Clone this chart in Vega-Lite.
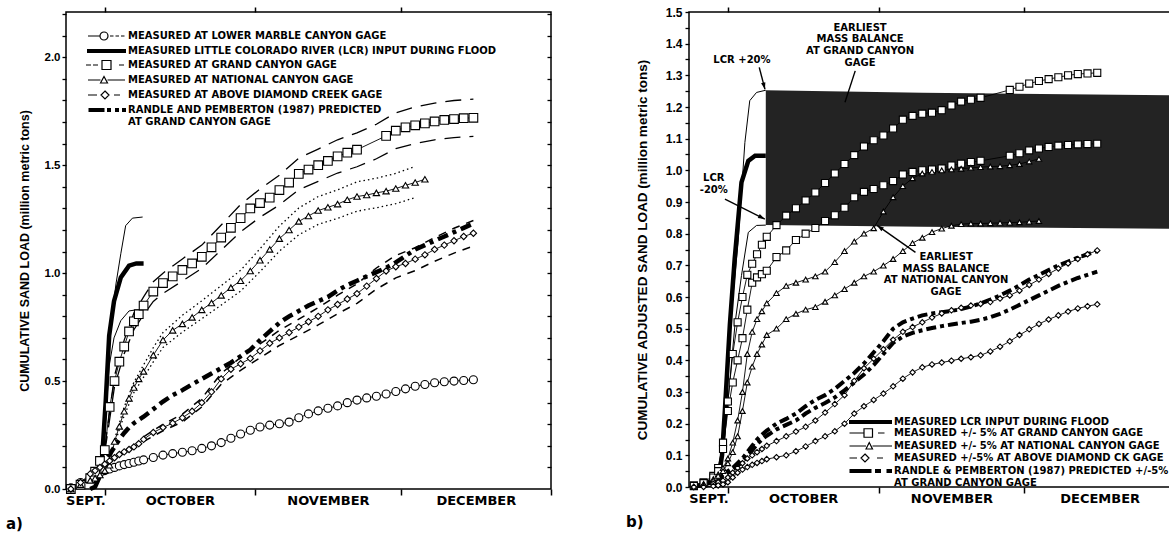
{
"$schema": "https://vega.github.io/schema/vega-lite/v6.json",
"background": "white",
"padding": {"left": 5, "top": 5, "right": 0, "bottom": 0},
"config": {"view": {"stroke": "black", "strokeWidth": 1.5}, "axis": {"grid": false}},
"bounds": "flush",
"spacing": 138,
"resolve": {"scale": {"shape": "independent"}, "legend": {"shape": "independent"}},
"datasets": {
"a_main": [
{"d":-7,"lm":0.005,"gc":0.0,"nc":0.0,"dc":0.0,"rp":0.0},
{"d":-5,"lm":0.03,"gc":0.02,"nc":0.02,"dc":0.03,"rp":0.02},
{"d":-3,"lm":0.055,"gc":0.05,"nc":0.04,"dc":0.07,"rp":0.05},
{"d":-2,"lm":0.065,"gc":0.08,"nc":0.05,"dc":0.085,"rp":0.07},
{"d":-1,"lm":0.075,"gc":0.13,"nc":0.065,"dc":0.1,"rp":0.1},
{"d":0,"lm":0.085,"gc":0.18,"nc":0.085,"dc":0.115,"rp":0.13},
{"d":1,"lm":0.093,"gc":0.38,"nc":0.11,"dc":0.13,"rp":0.16},
{"d":2,"lm":0.1,"gc":0.5,"nc":0.22,"dc":0.145,"rp":0.195},
{"d":3,"lm":0.107,"gc":0.59,"nc":0.29,"dc":0.16,"rp":0.23},
{"d":4,"lm":0.113,"gc":0.66,"nc":0.36,"dc":0.172,"rp":0.26},
{"d":5,"lm":0.118,"gc":0.73,"nc":0.42,"dc":0.183,"rp":0.285},
{"d":6,"lm":0.124,"gc":0.777,"nc":0.47,"dc":0.195,"rp":0.305},
{"d":7,"lm":0.13,"gc":0.81,"nc":0.51,"dc":0.21,"rp":0.32},
{"d":8,"lm":0.135,"gc":0.85,"nc":0.545,"dc":0.23,"rp":0.335},
{"d":10,"lm":0.146,"gc":0.915,"nc":0.62,"dc":0.262,"rp":0.37},
{"d":12,"lm":0.157,"gc":0.954,"nc":0.69,"dc":0.285,"rp":0.405},
{"d":14,"lm":0.164,"gc":0.985,"nc":0.735,"dc":0.305,"rp":0.435},
{"d":16,"lm":0.17,"gc":1.015,"nc":0.765,"dc":0.33,"rp":0.458},
{"d":18,"lm":0.177,"gc":1.045,"nc":0.795,"dc":0.36,"rp":0.485},
{"d":20,"lm":0.188,"gc":1.076,"nc":0.83,"dc":0.4,"rp":0.51},
{"d":22,"lm":0.2,"gc":1.12,"nc":0.862,"dc":0.45,"rp":0.535},
{"d":24,"lm":0.215,"gc":1.165,"nc":0.897,"dc":0.51,"rp":0.56},
{"d":26,"lm":0.235,"gc":1.21,"nc":0.933,"dc":0.555,"rp":0.585},
{"d":28,"lm":0.255,"gc":1.255,"nc":0.965,"dc":0.58,"rp":0.615},
{"d":30,"lm":0.272,"gc":1.3,"nc":1.01,"dc":0.605,"rp":0.645},
{"d":32,"lm":0.287,"gc":1.325,"nc":1.06,"dc":0.64,"rp":0.69},
{"d":34,"lm":0.296,"gc":1.35,"nc":1.11,"dc":0.675,"rp":0.73},
{"d":36,"lm":0.302,"gc":1.385,"nc":1.16,"dc":0.7,"rp":0.77},
{"d":38,"lm":0.31,"gc":1.42,"nc":1.2,"dc":0.725,"rp":0.8},
{"d":40,"lm":0.33,"gc":1.46,"nc":1.24,"dc":0.75,"rp":0.825},
{"d":42,"lm":0.348,"gc":1.48,"nc":1.265,"dc":0.775,"rp":0.85},
{"d":44,"lm":0.362,"gc":1.5,"nc":1.29,"dc":0.8,"rp":0.87},
{"d":46,"lm":0.374,"gc":1.52,"nc":1.305,"dc":0.83,"rp":0.89},
{"d":48,"lm":0.385,"gc":1.541,"nc":1.32,"dc":0.855,"rp":0.92},
{"d":50,"lm":0.4,"gc":1.558,"nc":1.34,"dc":0.88,"rp":0.945},
{"d":52,"lm":0.412,"gc":1.572,"nc":1.355,"dc":0.905,"rp":0.965},
{"d":54,"lm":0.422,"nc":1.362,"dc":0.94,"rp":0.985},
{"d":56,"lm":0.43,"nc":1.372,"dc":0.975,"rp":1.005},
{"d":58,"lm":0.44,"gc":1.636,"nc":1.38,"dc":1.01,"rp":1.025},
{"d":60,"lm":0.452,"gc":1.66,"nc":1.392,"dc":1.03,"rp":1.05},
{"d":62,"lm":0.464,"gc":1.676,"nc":1.407,"dc":1.045,"rp":1.08},
{"d":64,"lm":0.476,"gc":1.685,"nc":1.42,"dc":1.065,"rp":1.11},
{"d":66,"lm":0.484,"gc":1.694,"nc":1.435,"dc":1.085,"rp":1.13},
{"d":68,"lm":0.492,"gc":1.703,"dc":1.11,"rp":1.15},
{"d":70,"lm":0.497,"gc":1.71,"dc":1.13,"rp":1.17},
{"d":72,"lm":0.5,"gc":1.714,"dc":1.15,"rp":1.19},
{"d":74,"lm":0.503,"gc":1.718,"dc":1.17,"rp":1.21},
{"d":76,"lm":0.506,"gc":1.72,"dc":1.185,"rp":1.23}
],
"a_env": [
{"d":0,"gh":0.19,"gl":0.171},
{"d":2,"gh":0.525,"gl":0.475,"nh":0.23,"nl":0.21},
{"d":4,"gh":0.69,"gl":0.627,"nh":0.38,"nl":0.34},
{"d":6,"gh":0.815,"gl":0.738,"nh":0.495,"nl":0.447},
{"d":8,"gh":0.89,"gl":0.808,"nh":0.575,"nl":0.518,"dh":0.242,"dl":0.22},
{"d":10,"gh":0.96,"gl":0.869,"nh":0.655,"nl":0.589},
{"d":12,"gh":1.0,"gl":0.906,"nh":0.725,"nl":0.656,"dh":0.3,"dl":0.27},
{"d":16,"gh":1.066,"gl":0.964,"nh":0.805,"nl":0.727,"dh":0.347,"dl":0.31},
{"d":20,"gh":1.13,"gl":1.022,"nh":0.872,"nl":0.789,"dh":0.42,"dl":0.38},
{"d":24,"gh":1.223,"gl":1.107,"nh":0.942,"nl":0.852,"dh":0.535,"dl":0.485},
{"d":28,"gh":1.318,"gl":1.192,"nh":1.013,"nl":0.917,"dh":0.61,"dl":0.55},
{"d":32,"gh":1.39,"gl":1.259,"nh":1.113,"nl":1.007,"dh":0.672,"dl":0.608},
{"d":36,"gh":1.454,"gl":1.316,"nh":1.218,"nl":1.102,"dh":0.735,"dl":0.665},
{"d":40,"gh":1.533,"gl":1.387,"nh":1.302,"nl":1.178,"dh":0.787,"dl":0.712},
{"d":44,"gh":1.575,"gl":1.425,"nh":1.355,"nl":1.226,"dh":0.84,"dl":0.76},
{"d":48,"gh":1.618,"gl":1.464,"nh":1.386,"nl":1.254,"dh":0.898,"dl":0.812},
{"d":52,"gh":1.65,"gl":1.493,"nh":1.423,"nl":1.287,"dh":0.95,"dl":0.86},
{"d":56,"gh":1.69,"gl":1.53,"nh":1.44,"nl":1.303,"dh":1.024,"dl":0.926},
{"d":60,"gh":1.743,"gl":1.577,"nh":1.462,"nl":1.322,"dh":1.082,"dl":0.978},
{"d":64,"gh":1.77,"gl":1.601,"nh":1.495,"nl":1.35,"dh":1.118,"dl":1.012},
{"d":68,"gh":1.788,"gl":1.618,"dh":1.165,"dl":1.055},
{"d":72,"gh":1.8,"gl":1.628,"dh":1.208,"dl":1.093},
{"d":76,"gh":1.806,"gl":1.634,"dh":1.244,"dl":1.126}
],
"a_lcr": [
{"s":"lcr","d":-3,"v":0},{"s":"lcr","d":-2,"v":0.01},{"s":"lcr","d":-1.2,"v":0.05},{"s":"lcr","d":-0.5,"v":0.16},{"s":"lcr","d":0.2,"v":0.41},{"s":"lcr","d":0.9,"v":0.71},{"s":"lcr","d":1.9,"v":0.87},{"s":"lcr","d":3.3,"v":0.98},{"s":"lcr","d":5,"v":1.035},{"s":"lcr","d":6.5,"v":1.045},{"s":"lcr","d":8,"v":1.045},
{"s":"hi","d":-3,"v":0},{"s":"hi","d":-2,"v":0.012},{"s":"hi","d":-1.2,"v":0.06},{"s":"hi","d":-0.5,"v":0.19},{"s":"hi","d":0.2,"v":0.47},{"s":"hi","d":1.2,"v":0.75},{"s":"hi","d":2.3,"v":0.95},{"s":"hi","d":3.3,"v":1.09},{"s":"hi","d":4.3,"v":1.22},{"s":"hi","d":5.7,"v":1.255},{"s":"hi","d":7.8,"v":1.26},
{"s":"lo","d":-3,"v":0},{"s":"lo","d":-2,"v":0.008},{"s":"lo","d":-1.2,"v":0.04},{"s":"lo","d":-0.5,"v":0.13},{"s":"lo","d":0.2,"v":0.33},{"s":"lo","d":0.9,"v":0.57},{"s":"lo","d":1.9,"v":0.7},{"s":"lo","d":3.3,"v":0.78},{"s":"lo","d":5,"v":0.825},{"s":"lo","d":6.5,"v":0.83},{"s":"lo","d":8,"v":0.83}
],
"b_main": [
{"d":-7,"gu":0.005,"gl":0.003,"nu":0,"nl":0,"du":0,"dl":0,"ru":0,"rl":0},
{"d":-5,"gu":0.015,"gl":0.012,"nu":0.01,"nl":0.008,"du":0.004,"dl":0,"ru":0.01,"rl":0.008},
{"d":-3,"gu":0.035,"gl":0.03,"nu":0.025,"nl":0.02,"du":0.01,"dl":0.003,"ru":0.02,"rl":0.016},
{"d":-2,"gu":0.06,"gl":0.05,"nu":0.04,"nl":0.035,"du":0.015,"dl":0.005,"ru":0.03,"rl":0.025},
{"d":-1,"gu":0.14,"gl":0.12,"nu":0.06,"nl":0.05,"du":0.02,"dl":0.008,"ru":0.04,"rl":0.035},
{"d":0,"gu":0.27,"gl":0.24,"nu":0.09,"nl":0.075,"du":0.03,"dl":0.015,"ru":0.05,"rl":0.045},
{"d":1,"gu":0.42,"gl":0.33,"nu":0.14,"nl":0.11,"du":0.045,"dl":0.03,"ru":0.06,"rl":0.055},
{"d":2,"gu":0.52,"gl":0.4,"nu":0.21,"nl":0.16,"du":0.06,"dl":0.045,"ru":0.075,"rl":0.067},
{"d":3,"gu":0.6,"gl":0.47,"nu":0.3,"nl":0.24,"du":0.075,"dl":0.055,"ru":0.09,"rl":0.08},
{"d":4,"gu":0.67,"gl":0.56,"nu":0.42,"nl":0.33,"du":0.09,"dl":0.063,"ru":0.11,"rl":0.098},
{"d":5,"gu":0.705,"gl":0.645,"nu":0.49,"nl":0.38,"du":0.1,"dl":0.07,"ru":0.13,"rl":0.115},
{"d":6,"gu":0.735,"gl":0.662,"nu":0.53,"nl":0.42,"du":0.11,"dl":0.076,"ru":0.15,"rl":0.135},
{"d":7,"gu":0.765,"gl":0.672,"nu":0.555,"nl":0.45,"du":0.12,"dl":0.082,"ru":0.165,"rl":0.15},
{"d":8,"gu":0.79,"gl":0.683,"nu":0.58,"nl":0.48,"du":0.13,"dl":0.088,"ru":0.178,"rl":0.162},
{"d":10,"gu":0.827,"gl":0.726,"nu":0.612,"nl":0.5,"du":0.145,"dl":0.094,"ru":0.2,"rl":0.182},
{"d":12,"gu":0.857,"gl":0.747,"nu":0.635,"nl":0.53,"du":0.16,"dl":0.1,"ru":0.215,"rl":0.196},
{"d":14,"gu":0.88,"gl":0.78,"nu":0.645,"nl":0.547,"du":0.175,"dl":0.113,"ru":0.232,"rl":0.21},
{"d":16,"gu":0.905,"gl":0.8,"nu":0.655,"nl":0.56,"du":0.19,"dl":0.128,"ru":0.255,"rl":0.232},
{"d":18,"gu":0.93,"gl":0.818,"nu":0.665,"nl":0.568,"du":0.21,"dl":0.145,"ru":0.275,"rl":0.25},
{"d":20,"gu":0.96,"gl":0.84,"nu":0.68,"nl":0.585,"du":0.235,"dl":0.16,"ru":0.29,"rl":0.265},
{"d":22,"gu":0.99,"gl":0.858,"nu":0.71,"nl":0.605,"du":0.262,"dl":0.176,"ru":0.31,"rl":0.283},
{"d":24,"gu":1.02,"gl":0.882,"nu":0.745,"nl":0.625,"du":0.29,"dl":0.2,"ru":0.335,"rl":0.305},
{"d":26,"gu":1.048,"gl":0.915,"nu":0.775,"nl":0.645,"du":0.335,"dl":0.232,"ru":0.36,"rl":0.33},
{"d":28,"gu":1.075,"gl":0.932,"nu":0.8,"nl":0.665,"du":0.375,"dl":0.255,"ru":0.39,"rl":0.355},
{"d":30,"gu":1.095,"gl":0.941,"nu":0.817,"nl":0.68,"du":0.405,"dl":0.275,"ru":0.425,"rl":0.385},
{"d":32,"gu":1.11,"gl":0.953,"nu":0.87,"nl":0.699,"du":0.435,"dl":0.295,"ru":0.46,"rl":0.42},
{"d":34,"gu":1.132,"gl":0.966,"nu":0.915,"nl":0.72,"du":0.465,"dl":0.318,"ru":0.5,"rl":0.455},
{"d":36,"gu":1.16,"gl":0.987,"nu":0.95,"nl":0.745,"du":0.49,"dl":0.342,"ru":0.52,"rl":0.475},
{"d":38,"gu":1.172,"gl":0.995,"nu":0.975,"nl":0.77,"du":0.505,"dl":0.362,"ru":0.532,"rl":0.487},
{"d":40,"gu":1.179,"gl":1.0,"nu":0.99,"nl":0.787,"du":0.52,"dl":0.378,"ru":0.542,"rl":0.495},
{"d":42,"gu":1.182,"gl":1.003,"nu":0.995,"nl":0.805,"du":0.535,"dl":0.387,"ru":0.548,"rl":0.502},
{"d":44,"gu":1.19,"gl":1.006,"nu":1.0,"nl":0.816,"du":0.548,"dl":0.393,"ru":0.552,"rl":0.508},
{"d":46,"gu":1.205,"gl":1.015,"nu":1.003,"nl":0.825,"du":0.558,"dl":0.399,"ru":0.556,"rl":0.513},
{"d":48,"gu":1.217,"gl":1.021,"nu":1.005,"nl":0.83,"du":0.566,"dl":0.405,"ru":0.562,"rl":0.518},
{"d":50,"gu":1.223,"gl":1.026,"nu":1.008,"nl":0.832,"du":0.573,"dl":0.41,"ru":0.57,"rl":0.522},
{"d":52,"gu":1.229,"gl":1.03,"nu":1.01,"nl":0.832,"du":0.578,"dl":0.416,"ru":0.58,"rl":0.528},
{"d":54,"nu":1.012,"nl":0.833,"du":0.584,"dl":0.428,"ru":0.592,"rl":0.536},
{"d":56,"nu":1.013,"nl":0.834,"du":0.595,"dl":0.443,"ru":0.605,"rl":0.547},
{"d":58,"gu":1.254,"gl":1.046,"nu":1.016,"nl":0.835,"du":0.605,"dl":0.46,"ru":0.62,"rl":0.56},
{"d":60,"gu":1.264,"gl":1.054,"nu":1.02,"nl":0.836,"du":0.62,"dl":0.48,"ru":0.637,"rl":0.575},
{"d":62,"gu":1.274,"gl":1.063,"nu":1.028,"nl":0.838,"du":0.638,"dl":0.498,"ru":0.655,"rl":0.59},
{"d":64,"gu":1.282,"gl":1.069,"nu":1.036,"nl":0.84,"du":0.655,"dl":0.515,"ru":0.67,"rl":0.605},
{"d":66,"gu":1.288,"gl":1.074,"du":0.673,"dl":0.529,"ru":0.685,"rl":0.62},
{"d":68,"gu":1.294,"gl":1.078,"du":0.69,"dl":0.542,"ru":0.7,"rl":0.635},
{"d":70,"gu":1.3,"gl":1.08,"du":0.706,"dl":0.554,"ru":0.712,"rl":0.648},
{"d":72,"gu":1.304,"gl":1.082,"du":0.72,"dl":0.564,"ru":0.724,"rl":0.66},
{"d":74,"gu":1.306,"gl":1.083,"du":0.735,"dl":0.571,"ru":0.735,"rl":0.67},
{"d":76,"gu":1.308,"gl":1.084,"du":0.747,"dl":0.577,"ru":0.745,"rl":0.68}
],
"b_lcr": [
{"s":"lcr","d":-3,"v":0},{"s":"lcr","d":-2,"v":0.02},{"s":"lcr","d":-1.2,"v":0.1},{"s":"lcr","d":-0.6,"v":0.247},{"s":"lcr","d":0.4,"v":0.51},{"s":"lcr","d":1.4,"v":0.72},{"s":"lcr","d":2.8,"v":0.962},{"s":"lcr","d":4.2,"v":1.03},{"s":"lcr","d":5.6,"v":1.046},{"s":"lcr","d":7.8,"v":1.046},
{"s":"hi","d":-3,"v":0},{"s":"hi","d":-2,"v":0.03},{"s":"hi","d":-1,"v":0.163},{"s":"hi","d":0.8,"v":0.562},{"s":"hi","d":2.1,"v":0.773},{"s":"hi","d":3.5,"v":1.088},{"s":"hi","d":4.5,"v":1.22},{"s":"hi","d":5.9,"v":1.246},{"s":"hi","d":7.8,"v":1.253},
{"s":"lo","d":-3,"v":0},{"s":"lo","d":-2,"v":0.015},{"s":"lo","d":-1,"v":0.1},{"s":"lo","d":0.5,"v":0.35},{"s":"lo","d":1.5,"v":0.52},{"s":"lo","d":2.8,"v":0.668},{"s":"lo","d":4.2,"v":0.804},{"s":"lo","d":5.9,"v":0.826},{"s":"lo","d":7.8,"v":0.827}
],
"b_band": [
{"d":7.8,"hi":1.253,"lo":0.827},{"d":40,"hi":1.245,"lo":0.822},{"d":92,"hi":1.237,"lo":0.815}
],
"b_notes": [
{"d":2.9,"v":1.35,"t":"LCR +20%"},
{"d":-2.9,"v":0.975,"t":"LCR|-20%"},
{"d":27.2,"v":1.451,"t":"EARLIEST|MASS BALANCE|AT GRAND CANYON|GAGE"},
{"d":44.9,"v":0.726,"t":"EARLIEST|MASS BALANCE|AT NATIONAL CANYON|GAGE"}
],
"b_arrows": [
{"id":"p20","d":6.45,"v":1.325,"d2":7.63,"v2":1.256},
{"id":"m20","d":-0.6,"v":0.909,"d2":7.6,"v2":0.846},
{"id":"gc","d":26.2,"v":1.314,"d2":24.1,"v2":1.215},
{"id":"nc","d":38.6,"v":0.741,"d2":30.7,"v2":0.826}
]
},
"hconcat": [
{
"width": 485, "height": 477,
"title": {"text": "a)", "orient": "bottom", "anchor": "start", "frame": "group", "dx": -60, "offset": 10, "font": "DejaVu Sans", "fontWeight": "bold", "fontSize": 15, "color": "black"},
"resolve": {"axis": {"x": "independent", "y": "independent"}},
"encoding": {
"x": {"field": "d", "type": "quantitative", "scale": {"domain": [-8, 92], "nice": false, "zero": false}, "axis": null},
"y": {"field": "v", "type": "quantitative", "scale": {"domain": [0, 2.21], "nice": false}, "axis": null}
},
"layer": [
{"data": {"name": "a_env"}, "transform": [{"fold": ["gh", "gl"], "as": ["key", "v"]}, {"filter": "isValid(datum.v)"}],
 "mark": {"type": "line", "color": "black", "strokeWidth": 1.3, "strokeDash": [16, 9]},
 "encoding": {"detail": {"field": "key"},
  "x": {"field": "d", "type": "quantitative", "scale": {"domain": [-8, 92], "nice": false, "zero": false},
   "axis": {"orient": "bottom", "values": [-4, 15.5, 46, 76.5], "ticks": false, "domain": false, "grid": false, "title": null, "labelExpr": "datum.value < 0 ? 'SEPT.' : datum.value < 30 ? 'OCTOBER' : datum.value < 60 ? 'NOVEMBER' : 'DECEMBER'", "labelFont": "DejaVu Sans", "labelFontWeight": "bold", "labelFontSize": 13, "labelColor": "black", "labelPadding": 5, "labelOverlap": false, "labelFlush": false}},
  "y": {"field": "v", "type": "quantitative", "scale": {"domain": [0, 2.21], "nice": false},
   "axis": {"orient": "left", "values": [0,0.1,0.2,0.3,0.4,0.5,0.6,0.7,0.8,0.9,1,1.1,1.2,1.3,1.4,1.5,1.6,1.7,1.8,1.9,2,2.1,2.2], "domain": false, "grid": false, "labelExpr": "round(datum.value*10) % 5 == 0 ? format(datum.value, '.1f') : ''", "tickSize": 4, "tickWidth": 1.3, "tickColor": "black", "labelFont": "Liberation Sans", "labelFontWeight": "bold", "labelFontSize": 11.5, "labelColor": "black", "labelPadding": 2, "labelOverlap": false, "title": "CUMULATIVE SAND LOAD (million metric tons)", "titleFont": "Liberation Sans", "titleFontWeight": "bold", "titleFontSize": 12.5, "titleColor": "black", "titlePadding": 13}}}},
{"data": {"name": "a_env"}, "transform": [{"fold": ["nh", "nl"], "as": ["key", "v"]}, {"filter": "isValid(datum.v)"}],
 "mark": {"type": "line", "color": "black", "strokeWidth": 1.3, "strokeDash": [1.5, 3]},
 "encoding": {"detail": {"field": "key"},
  "x": {"field": "d", "type": "quantitative", "scale": {"domain": [-8, 92], "nice": false, "zero": false},
   "axis": {"orient": "bottom", "values": [0, 31, 61, 92], "labels": false, "domain": false, "grid": false, "title": null, "tickSize": 6, "tickWidth": 1.5, "tickColor": "black"}},
  "y": {"field": "v", "type": "quantitative", "scale": {"domain": [0, 2.21], "nice": false},
   "axis": {"orient": "right", "values": [0.1,0.2,0.3,0.4,0.5,0.6,0.7,0.8,0.9,1,1.1,1.2,1.3,1.4,1.5,1.6,1.7,1.8,1.9,2,2.1,2.2], "labels": false, "domain": false, "grid": false, "title": null, "tickSize": -4, "tickWidth": 1.3, "tickColor": "black"}}}},
{"data": {"name": "a_env"}, "transform": [{"fold": ["dh", "dl"], "as": ["key", "v"]}, {"filter": "isValid(datum.v)"}],
 "mark": {"type": "line", "color": "black", "strokeWidth": 1.5, "strokeDash": [8, 7]},
 "encoding": {"detail": {"field": "key"},
  "x": {"field": "d", "type": "quantitative", "scale": {"domain": [-8, 92], "nice": false, "zero": false},
   "axis": {"orient": "top", "values": [0, 31, 61], "labels": false, "domain": false, "grid": false, "title": null, "tickSize": 5, "tickWidth": 1.5, "tickColor": "black"}}}},
{"data": {"name": "a_main"}, "transform": [{"fold": ["lm", "gc", "nc", "dc"], "as": ["key", "v"]}, {"filter": "isValid(datum.v)"}],
 "mark": {"type": "line", "color": "black", "strokeWidth": 0.9},
 "encoding": {"detail": {"field": "key"}}},
{"data": {"name": "a_main"}, "transform": [{"fold": ["rp"], "as": ["key", "v"]}, {"filter": "isValid(datum.v)"}],
 "mark": {"type": "line", "color": "black", "strokeWidth": 4.5, "strokeDash": [11, 5, 4, 5]},
 "encoding": {}},
{"data": {"name": "a_lcr"}, "transform": [{"filter": "datum.s != 'lcr'"}],
 "mark": {"type": "line", "color": "black", "strokeWidth": 1},
 "encoding": {"detail": {"field": "s"}}},
{"data": {"name": "a_lcr"}, "transform": [{"filter": "datum.s == 'lcr'"}],
 "mark": {"type": "line", "color": "black", "strokeWidth": 4.5},
 "encoding": {}},
{"data": {"name": "a_main"}, "transform": [{"fold": ["lm"], "as": ["key", "v"]}, {"filter": "isValid(datum.v)"}],
 "mark": {"type": "point", "shape": "circle", "size": 64, "filled": true, "fill": "white", "stroke": "black", "strokeWidth": 1.1, "opacity": 1},
 "encoding": {}},
{"data": {"name": "a_main"}, "transform": [{"fold": ["gc"], "as": ["key", "v"]}, {"filter": "isValid(datum.v)"}],
 "mark": {"type": "point", "shape": "square", "size": 75, "filled": true, "fill": "white", "stroke": "black", "strokeWidth": 1.1, "opacity": 1},
 "encoding": {}},
{"data": {"name": "a_main"}, "transform": [{"fold": ["nc"], "as": ["key", "v"]}, {"filter": "isValid(datum.v)"}],
 "mark": {"type": "point", "shape": "triangle-up", "size": 40, "filled": true, "fill": "white", "stroke": "black", "strokeWidth": 1.1, "opacity": 1},
 "encoding": {}},
{"data": {"name": "a_main"}, "transform": [{"fold": ["dc"], "as": ["key", "v"]}, {"filter": "isValid(datum.v)"}],
 "mark": {"type": "point", "shape": "diamond", "size": 40, "filled": true, "fill": "white", "stroke": "black", "strokeWidth": 1.1, "opacity": 1},
 "encoding": {}},
{"data": {"values": [
  {"name": "MEASURED AT LOWER MARBLE CANYON GAGE"},
  {"name": "MEASURED LITTLE COLORADO RIVER (LCR) INPUT DURING FLOOD"},
  {"name": "MEASURED AT GRAND CANYON GAGE"},
  {"name": "MEASURED AT NATIONAL CANYON GAGE"},
  {"name": "MEASURED AT ABOVE DIAMOND CREEK GAGE"},
  {"name": "RANDLE AND PEMBERTON (1987) PREDICTED|AT GRAND CANYON GAGE"}]},
 "mark": {"type": "point", "filled": false, "color": "black", "strokeWidth": 1.2},
 "encoding": {"shape": {"field": "name", "type": "nominal",
  "scale": {"domain": ["MEASURED AT LOWER MARBLE CANYON GAGE", "MEASURED LITTLE COLORADO RIVER (LCR) INPUT DURING FLOOD", "MEASURED AT GRAND CANYON GAGE", "MEASURED AT NATIONAL CANYON GAGE", "MEASURED AT ABOVE DIAMOND CREEK GAGE", "RANDLE AND PEMBERTON (1987) PREDICTED|AT GRAND CANYON GAGE"],
   "range": [
    "M-4.8,0H-2.4M-0.8,0A0.8,0.8 0 1,1 -2.4,0A0.8,0.8 0 1,1 -0.8,0ZM-0.4,0H0.3M0.7,0H1.4M1.8,0H2.5",
    "M-5,-0.3H2.8M-5,-0.15H2.8M-5,0H2.8M-5,0.15H2.8M-5,0.3H2.8",
    "M-5.2,0H-4.2M-3.8,0H-2.8M-2.0,-0.9H-0.2V0.9H-2.0ZM1.4,0H2.4",
    "M-4.8,0H-2.3M-0.9,0H2.6M-2.3,0.6L-1.6,-0.7L-0.9,0.6Z",
    "M-4.8,0H-3.0M-1.4,-0.8L-0.6,0L-1.4,0.8L-2.2,0ZM0.4,0H1.6",
    "M-4.7,-0.3H-1.5M-4.7,-0.15H-1.5M-4.7,0H-1.5M-4.7,0.15H-1.5M-4.7,0.3H-1.5M-1.0,-0.3H-0.2M-1.0,-0.15H-0.2M-1.0,0H-0.2M-1.0,0.15H-0.2M-1.0,0.3H-0.2M0.6,-0.3H1.4M0.6,-0.15H1.4M0.6,0H1.4M0.6,0.15H1.4M0.6,0.3H1.4M2.0,-0.3H2.8M2.0,-0.15H2.8M2.0,0H2.8M2.0,0.15H2.8M2.0,0.3H2.8"]},
  "legend": {"title": null, "orient": "none", "legendX": 40, "legendY": 18, "padding": 0, "rowPadding": 2, "symbolSize": 100, "symbolStrokeColor": "black", "symbolStrokeWidth": 1.2, "symbolOpacity": 1, "labelFont": "DejaVu Sans", "labelFontWeight": "bold", "labelFontSize": 10, "labelColor": "black", "labelLimit": 600, "labelOffset": 10, "labelExpr": "split(datum.label, '|')"}}}}
]
},
{
"width": 486, "height": 475,
"title": {"text": "b)", "orient": "bottom", "anchor": "start", "frame": "group", "dx": -63, "offset": 10, "font": "DejaVu Sans", "fontWeight": "bold", "fontSize": 15, "color": "black"},
"resolve": {"axis": {"x": "independent", "y": "independent"}},
"encoding": {
"x": {"field": "d", "type": "quantitative", "scale": {"domain": [-8, 92], "nice": false, "zero": false}, "axis": null},
"y": {"field": "v", "type": "quantitative", "scale": {"domain": [0, 1.5], "nice": false}, "axis": null}
},
"layer": [
{"data": {"name": "b_band"},
 "mark": {"type": "area", "color": "#232323", "opacity": 1},
 "encoding": {"y": {"field": "hi", "type": "quantitative", "scale": {"domain": [0, 1.5], "nice": false}, "axis": null}, "y2": {"field": "lo"}}},
{"data": {"name": "b_lcr"}, "transform": [{"filter": "datum.s != 'lcr'"}],
 "mark": {"type": "line", "color": "black", "strokeWidth": 1},
 "encoding": {"detail": {"field": "s"},
  "x": {"field": "d", "type": "quantitative", "scale": {"domain": [-8, 92], "nice": false, "zero": false},
   "axis": {"orient": "bottom", "values": [-4, 15.5, 46, 76.5], "ticks": false, "domain": false, "grid": false, "title": null, "labelExpr": "datum.value < 0 ? 'SEPT.' : datum.value < 30 ? 'OCTOBER' : datum.value < 60 ? 'NOVEMBER' : 'DECEMBER'", "labelFont": "DejaVu Sans", "labelFontWeight": "bold", "labelFontSize": 13, "labelColor": "black", "labelPadding": 5, "labelOverlap": false, "labelFlush": false}},
  "y": {"field": "v", "type": "quantitative", "scale": {"domain": [0, 1.5], "nice": false},
   "axis": {"orient": "left", "values": [0,0.05,0.1,0.15,0.2,0.25,0.3,0.35,0.4,0.45,0.5,0.55,0.6,0.65,0.7,0.75,0.8,0.85,0.9,0.95,1,1.05,1.1,1.15,1.2,1.25,1.3,1.35,1.4,1.45,1.5], "domain": false, "grid": false, "labelExpr": "round(datum.value*100) % 10 == 0 ? format(datum.value, '.1f') : ''", "tickSize": 4, "tickWidth": 1.3, "tickColor": "black", "labelFont": "Liberation Sans", "labelFontWeight": "bold", "labelFontSize": 12, "labelColor": "black", "labelPadding": 3, "labelOverlap": false, "title": "CUMULATIVE ADJUSTED SAND LOAD (million metric tons)", "titleFont": "Liberation Sans", "titleFontWeight": "bold", "titleFontSize": 13.5, "titleColor": "black", "titlePadding": 16}}}},
{"data": {"name": "b_lcr"}, "transform": [{"filter": "datum.s == 'lcr'"}],
 "mark": {"type": "line", "color": "black", "strokeWidth": 4.5},
 "encoding": {
  "x": {"field": "d", "type": "quantitative", "scale": {"domain": [-8, 92], "nice": false, "zero": false},
   "axis": {"orient": "bottom", "values": [0, 31, 61], "labels": false, "domain": false, "grid": false, "title": null, "tickSize": 6, "tickWidth": 1.5, "tickColor": "black"}},
  "y": {"field": "v", "type": "quantitative", "scale": {"domain": [0, 1.5], "nice": false},
   "axis": {"orient": "right", "values": [0.1,0.2,0.3,0.4,0.5,0.6,0.7,0.8,0.9,1,1.1,1.2,1.3,1.4], "labels": false, "domain": false, "grid": false, "title": null, "tickSize": -4, "tickWidth": 1.3, "tickColor": "black"}}}},
{"data": {"name": "b_main"}, "transform": [{"fold": ["gu", "gl", "nu", "nl", "du", "dl"], "as": ["key", "v"]}, {"filter": "isValid(datum.v)"}],
 "mark": {"type": "line", "color": "black", "strokeWidth": 0.9},
 "encoding": {"detail": {"field": "key"},
  "x": {"field": "d", "type": "quantitative", "scale": {"domain": [-8, 92], "nice": false, "zero": false},
   "axis": {"orient": "top", "values": [0, 31, 61], "labels": false, "domain": false, "grid": false, "title": null, "tickSize": 5, "tickWidth": 1.5, "tickColor": "black"}}}},
{"data": {"name": "b_main"}, "transform": [{"fold": ["ru", "rl"], "as": ["key", "v"]}, {"filter": "isValid(datum.v)"}],
 "mark": {"type": "line", "color": "black", "strokeWidth": 4, "strokeDash": [10, 4, 4, 4]},
 "encoding": {"detail": {"field": "key"}}},
{"data": {"name": "b_main"}, "transform": [{"fold": ["gu", "gl"], "as": ["key", "v"]}, {"filter": "isValid(datum.v)"}],
 "mark": {"type": "point", "shape": "square", "size": 50, "filled": true, "fill": "white", "stroke": "black", "strokeWidth": 1.1, "opacity": 1},
 "encoding": {}},
{"data": {"name": "b_main"}, "transform": [{"fold": ["nu", "nl"], "as": ["key", "v"]}, {"filter": "isValid(datum.v)"}],
 "mark": {"type": "point", "shape": "triangle-up", "size": 30, "filled": true, "fill": "white", "stroke": "black", "strokeWidth": 1.1, "opacity": 1},
 "encoding": {}},
{"data": {"name": "b_main"}, "transform": [{"fold": ["du", "dl"], "as": ["key", "v"]}, {"filter": "isValid(datum.v)"}],
 "mark": {"type": "point", "shape": "diamond", "size": 30, "filled": true, "fill": "white", "stroke": "black", "strokeWidth": 1.1, "opacity": 1},
 "encoding": {}},
{"data": {"name": "b_arrows"},
 "mark": {"type": "rule", "color": "black", "strokeWidth": 1.4},
 "encoding": {"x2": {"field": "d2"}, "y2": {"field": "v2"}}},
{"data": {"name": "b_arrows"}, "transform": [{"filter": "datum.id == 'p20'"}],
 "mark": {"type": "point", "shape": "M0,0L0.55,1.7L-0.55,1.7Z", "size": 64, "filled": true, "color": "black", "opacity": 1, "angle": 165},
 "encoding": {"x": {"field": "d2", "type": "quantitative", "scale": {"domain": [-8, 92], "nice": false, "zero": false}, "axis": null}, "y": {"field": "v2", "type": "quantitative", "scale": {"domain": [0, 1.5], "nice": false}, "axis": null}}},
{"data": {"name": "b_arrows"}, "transform": [{"filter": "datum.id == 'm20'"}],
 "mark": {"type": "point", "shape": "M0,0L0.55,1.7L-0.55,1.7Z", "size": 64, "filled": true, "color": "black", "opacity": 1, "angle": 117},
 "encoding": {"x": {"field": "d2", "type": "quantitative", "scale": {"domain": [-8, 92], "nice": false, "zero": false}, "axis": null}, "y": {"field": "v2", "type": "quantitative", "scale": {"domain": [0, 1.5], "nice": false}, "axis": null}}},
{"data": {"name": "b_arrows"}, "transform": [{"filter": "datum.id == 'nc'"}],
 "mark": {"type": "point", "shape": "M0,0L0.55,1.7L-0.55,1.7Z", "size": 64, "filled": true, "color": "black", "opacity": 1, "angle": 305},
 "encoding": {"x": {"field": "d2", "type": "quantitative", "scale": {"domain": [-8, 92], "nice": false, "zero": false}, "axis": null}, "y": {"field": "v2", "type": "quantitative", "scale": {"domain": [0, 1.5], "nice": false}, "axis": null}}},
{"data": {"name": "b_notes"},
 "mark": {"type": "text", "font": "DejaVu Sans", "fontWeight": "bold", "fontSize": 10, "lineBreak": "|", "lineHeight": 11.7, "align": "center", "baseline": "middle", "color": "black"},
 "encoding": {"text": {"field": "t"}}},
{"data": {"values": [
  {"name": "MEASURED LCR INPUT DURING FLOOD"},
  {"name": "MEASURED +/- 5% AT GRAND CANYON GAGE"},
  {"name": "MEASURED +/- 5% AT NATIONAL CANYON GAGE"},
  {"name": "MEASURED +/-5% AT ABOVE DIAMOND CK GAGE"},
  {"name": "RANDLE & PEMBERTON (1987) PREDICTED +/-5%|AT GRAND CANYON GAGE"}]},
 "mark": {"type": "point", "filled": false, "color": "black", "strokeWidth": 1.2},
 "encoding": {"shape": {"field": "name", "type": "nominal",
  "scale": {"domain": ["MEASURED LCR INPUT DURING FLOOD", "MEASURED +/- 5% AT GRAND CANYON GAGE", "MEASURED +/- 5% AT NATIONAL CANYON GAGE", "MEASURED +/-5% AT ABOVE DIAMOND CK GAGE", "RANDLE & PEMBERTON (1987) PREDICTED +/-5%|AT GRAND CANYON GAGE"],
   "range": [
    "M-5.8,-0.3H2.8M-5.8,-0.15H2.8M-5.8,0H2.8M-5.8,0.15H2.8M-5.8,0.3H2.8",
    "M-5.7,0H-2.8M-2.8,-0.85H-1.1V0.85H-2.8ZM0.0,0H1.3",
    "M-5.7,0H-2.4M-1.1,0H2.8M-2.4,0.6L-1.75,-0.7L-1.1,0.6Z",
    "M-5.7,0H-4.2M-2.6,-0.8L-1.8,0L-2.6,0.8L-3.4,0ZM-0.2,0H1.0",
    "M-5.7,-0.3H-1.3M-5.7,-0.15H-1.3M-5.7,0H-1.3M-5.7,0.15H-1.3M-5.7,0.3H-1.3M-0.6,-0.3H0.6M-0.6,-0.15H0.6M-0.6,0H0.6M-0.6,0.15H0.6M-0.6,0.3H0.6M1.7,-0.3H2.8M1.7,-0.15H2.8M1.7,0H2.8M1.7,0.15H2.8M1.7,0.3H2.8"]},
  "legend": {"title": null, "orient": "none", "legendX": 183, "legendY": 404, "padding": 0, "rowPadding": -1.6, "symbolSize": 100, "symbolStrokeColor": "black", "symbolStrokeWidth": 1.2, "symbolOpacity": 1, "labelFont": "DejaVu Sans", "labelFontWeight": "bold", "labelFontSize": 10, "labelColor": "black", "labelLimit": 600, "labelOffset": 10, "labelExpr": "split(datum.label, '|')"}}}}
]
}
]
}
